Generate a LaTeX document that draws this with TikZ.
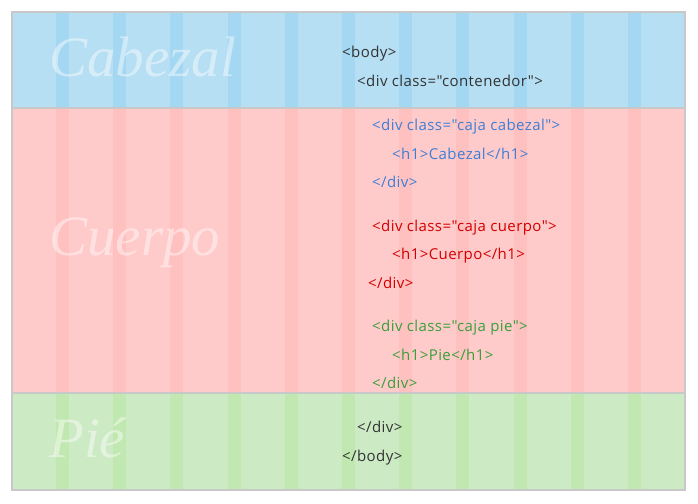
\documentclass[tikz,border=0pt]{standalone}
\usepackage{fontspec}
\setmainfont{Liberation Serif}
\newfontfamily\codefont[LetterSpace=2.8]{Open Sans}
\usetikzlibrary{positioning}

\definecolor{azul}{HTML}{B6DFF4}
\definecolor{azulraya}{HTML}{A4D7F1}
\definecolor{rosa}{HTML}{FFCACA}
\definecolor{rosaraya}{HTML}{FFC0C0}
\definecolor{verde}{HTML}{CCEAC4}
\definecolor{verderaya}{HTML}{C0E8B0}
\definecolor{borde}{HTML}{C8C8C8}
\definecolor{codnegro}{HTML}{333333}
\definecolor{codazul}{HTML}{3D7FD6}
\definecolor{codrojo}{HTML}{D40000}
\definecolor{codverde}{HTML}{38A038}

\begin{document}
\begin{tikzpicture}[x=1pt,y=-1pt,
  code/.style={anchor=base west,inner sep=0pt,font=\codefont\fontsize{15}{17}\selectfont},
  titulo/.style={anchor=base west,inner sep=0pt,text=white,text opacity=0.45,font=\itshape\fontsize{57}{60}\selectfont}]
\useasboundingbox (0,0) rectangle (698,503);
% bandas
\fill[azul] (12,12) rectangle (685,108);
\fill[rosa] (12,108) rectangle (685,393);
\fill[verde] (12,393) rectangle (685,490);
% columnas de la rejilla
\foreach \k in {0,...,10} {
  \fill[azulraya] ({56+57.2*\k},12) rectangle ++(13,96);
  \fill[rosaraya] ({56+57.2*\k},108) rectangle ++(13,285);
  \fill[verderaya] ({56+57.2*\k},393) rectangle ++(13,97);
}
\draw[borde,line width=2pt] (12,12) rectangle (685,490);
\draw[borde,line width=2pt] (12,108) -- (685,108);
\draw[borde,line width=2pt] (12,393) -- (685,393);

\node[titulo] (cabezal) at (49,76) {Cabezal};
\node[titulo] (cuerpo) at (49,255) {Cuerpo};
\node[titulo] (pie) at (49,457) {Pié};

% codigo
\node[code,text=codnegro] (body) at (342,57.5) {<body>};
\node[code,text=codnegro] (cont) at (357,86) {<div class="contenedor">};
\node[code,text=codazul] (cab1) at (372,130) {<div class="caja cabezal">};
\node[code,text=codazul] (cab2) at (392,159) {<h1>Cabezal</h1>};
\node[code,text=codazul] (cab3) at (372,187.5) {</div>};
\node[code,text=codrojo] (cue1) at (372,231) {<div class="caja cuerpo">};
\node[code,text=codrojo] (cue2) at (392,259.5) {<h1>Cuerpo</h1>};
\node[code,text=codrojo] (cue3) at (368,288) {</div>};
\node[code,text=codverde] (pie1) at (372,331.5) {<div class="caja pie">};
\node[code,text=codverde] (pie2) at (392,360) {<h1>Pie</h1>};
\node[code,text=codverde] (pie3) at (372,388) {</div>};
\node[code,text=codnegro] (cont2) at (357,432.5) {</div>};
\node[code,text=codnegro] (body2) at (342,461.5) {</body>};
\end{tikzpicture}
\end{document}
